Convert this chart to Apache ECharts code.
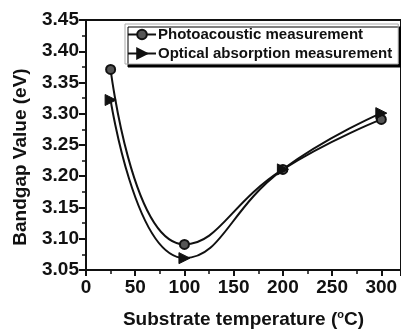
<!DOCTYPE html>
<html><head><meta charset="utf-8">
<script src="https://cdn.jsdelivr.net/npm/echarts@6/dist/echarts.min.js"></script>
<style>html,body{margin:0;padding:0;background:#fff}#c{width:401px;height:334px}</style>
</head><body><div id="c"></div>
<script>
const temperatures = [25, 100, 200, 300];
const photoacoustic = [3.371, 3.091, 3.211, 3.291];
const optical = [3.322, 3.069, 3.211, 3.301];
const seriesNames = ['Photoacoustic measurement', 'Optical absorption measurement'];

const chart = echarts.init(document.getElementById('c'), null, {renderer: 'canvas'});
const font = 'Liberation Sans, Arial, sans-serif';
const ink = '#111';
function pairs(xs, ys){ return xs.map((x,i)=>[x, ys[i]]); }
chart.setOption({
  animation: false,
  backgroundColor: '#fff',
  grid: {left: 86, right: -1, top: 20, bottom: 57, show: true, borderColor: ink, borderWidth: 2, backgroundColor: 'transparent'},
  legend: {
    orient: 'vertical', left: 125, top: 24, itemGap: 4, padding: [3, 6, 3, 2],
    itemWidth: 28, itemHeight: 12,
    backgroundColor: '#fff', borderColor: '#aaa', borderWidth: 1,
    shadowColor: '#000', shadowBlur: 0, shadowOffsetX: 3, shadowOffsetY: 3,
    textStyle: {fontFamily: font, fontWeight: 'bold', fontSize: 15, color: ink, padding: [0,0,0,-3]},
    data: seriesNames
  },
  xAxis: {
    type: 'value', min: 0, max: 320, interval: 50,
    axisLine: {show: true, lineStyle: {color: ink, width: 2}},
    axisTick: {show: true, length: 6, lineStyle: {color: ink, width: 2}},
    minorTick: {show: true, splitNumber: 2, length: 4, lineStyle: {color: ink, width: 1.5}},
    splitLine: {show: false},
    axisLabel: {fontFamily: font, fontWeight: 'bold', fontSize: 19, color: ink, margin: 8, showMaxLabel: false},
    name: 'Substrate temperature ({sup|o}C)', nameLocation: 'middle', nameGap: 39,
    nameTextStyle: {fontFamily: font, fontWeight: 'bold', fontSize: 19, color: ink,
      rich: {sup: {fontFamily: font, fontWeight: 'bold', fontSize: 11, verticalAlign: 'top', padding: [0,0,10,0], color: ink}}}
  },
  yAxis: {
    type: 'value', min: 3.05, max: 3.45, interval: 0.05,
    axisLine: {show: true, lineStyle: {color: ink, width: 2}},
    axisTick: {show: true, length: 7, lineStyle: {color: ink, width: 2}},
    minorTick: {show: true, splitNumber: 2, length: 4, lineStyle: {color: ink, width: 1.5}},
    splitLine: {show: false},
    axisLabel: {fontFamily: font, fontWeight: 'bold', fontSize: 19, color: ink, margin: 7, formatter: v => v.toFixed(2)},
    name: 'Bandgap Value (eV)', nameLocation: 'middle', nameGap: 56, nameRotate: 90,
    nameTextStyle: {fontFamily: font, fontWeight: 'bold', fontSize: 19, color: ink, padding: [0, 24, 0, 0]}
  },
  series: [
    {name: seriesNames[0], type: 'line', smooth: 0.5, data: pairs(temperatures, photoacoustic),
      symbol: 'circle', symbolSize: 9,
      lineStyle: {color: ink, width: 2}, itemStyle: {color: '#555', borderColor: ink, borderWidth: 2}},
    {name: seriesNames[1], type: 'line', smooth: 0.5, data: pairs(temperatures, optical),
      symbol: 'triangle', symbolSize: 11, symbolRotate: -90,
      lineStyle: {color: ink, width: 2}, itemStyle: {color: ink, borderColor: ink, borderWidth: 1}}
  ]
});
</script></body></html>
